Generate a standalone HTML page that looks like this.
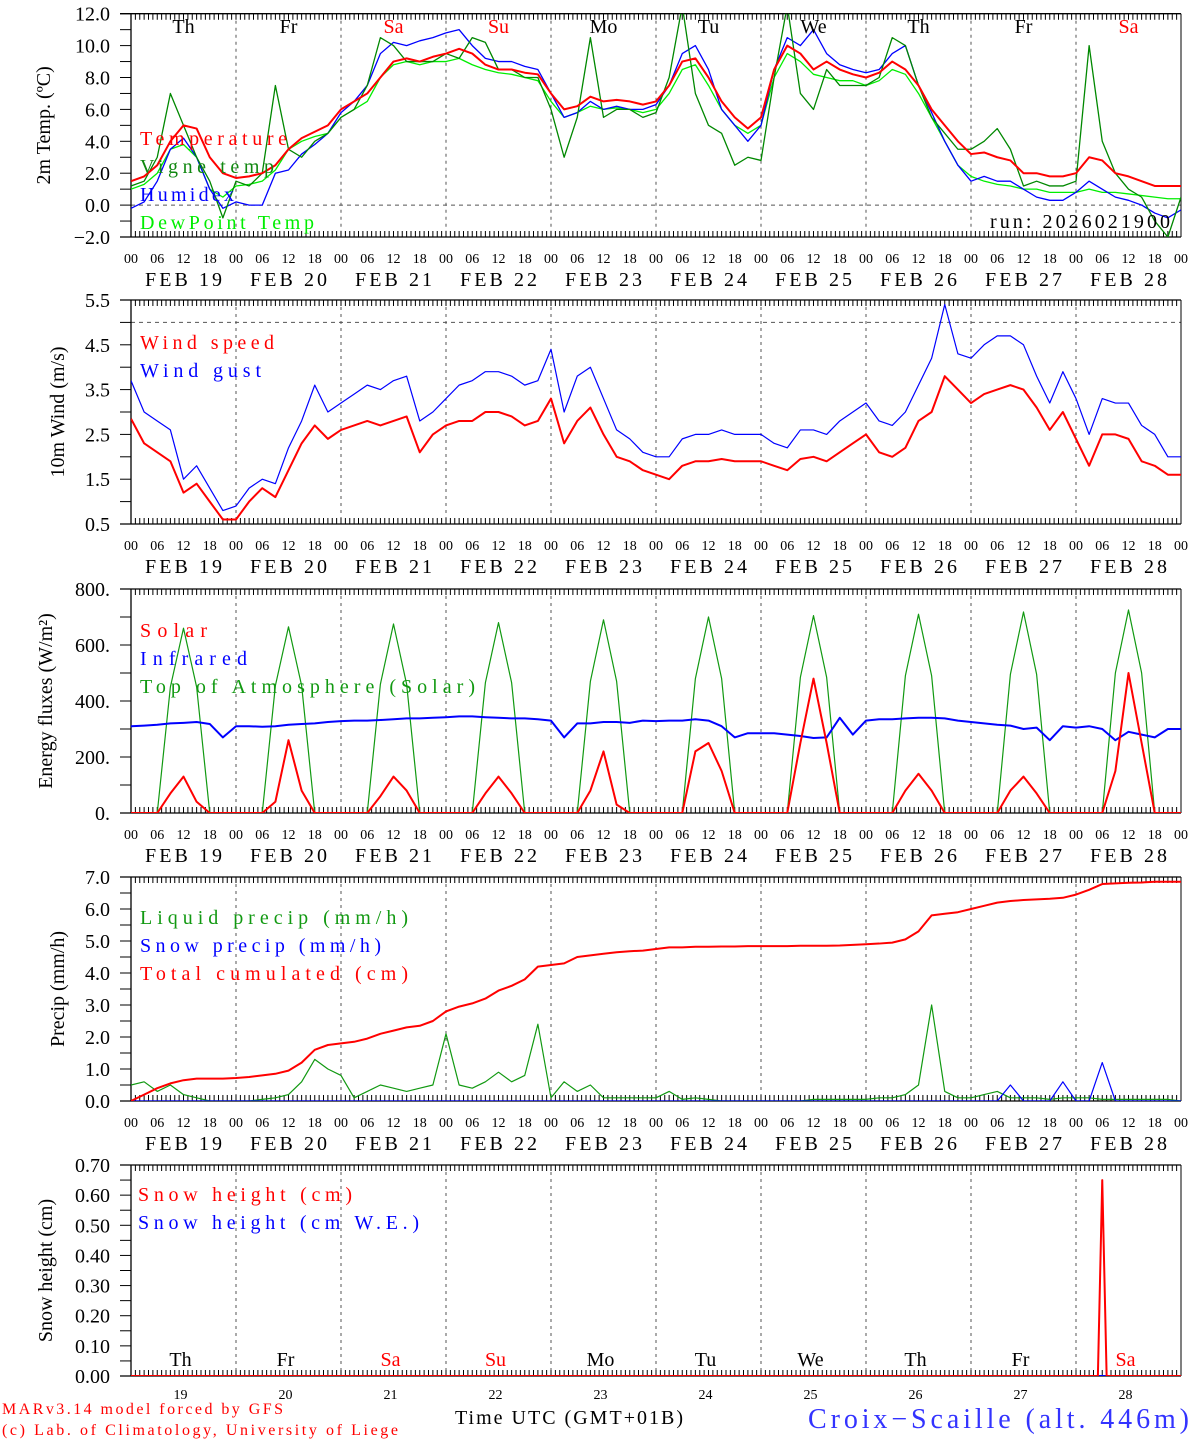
<!DOCTYPE html>
<html><head><meta charset="utf-8"><style>
html,body{margin:0;padding:0;background:#fff;}
svg{display:block;font-family:"Liberation Serif",serif;}
</style></head><body>
<svg id="chart" width="1194" height="1440" viewBox="0 0 1194 1440" xmlns="http://www.w3.org/2000/svg"></svg>
<script>
// ---------- data (3-hourly, 81 points from FEB 19 00 to MAR 01 00) ----------
const weekdays = ["Th","Fr","Sa","Su","Mo","Tu","We","Th","Fr","Sa"];
const weekendFlags = [0,0,1,1,0,0,0,0,0,1];
const dayNumbers = ["19","20","21","22","23","24","25","26","27","28"];
const hourLabels = ["00","06","12","18"];

const temperature = [1.5,1.8,2.5,4.0,5.0,4.8,3.0,2.0, 1.7,1.8,2.0,2.5,3.5,4.2,4.6,5.0, 6.0,6.5,7.0,8.0,9.0,9.2,9.0,9.3, 9.5,9.8,9.5,8.8,8.5,8.5,8.3,8.2, 7.0,6.0,6.2,6.8,6.5,6.6,6.5,6.3, 6.5,7.5,9.0,9.2,8.0,6.5,5.5,4.8, 5.5,8.5,10.0,9.5,8.5,9.0,8.5,8.2, 8.0,8.3,9.0,8.5,7.5,6.0,5.0,4.0, 3.2,3.3,3.0,2.8,2.0,2.0,1.8,1.8, 2.0,3.0,2.8,2.0,1.8,1.5,1.2,1.2, 1.2];
const vigneTemp = [1.2,1.5,3.0,7.0,5.0,3.0,1.5,-0.8, 1.5,1.2,2.0,7.5,3.5,3.0,4.0,4.5, 5.5,6.0,7.5,10.5,10.0,9.0,9.0,9.0, 9.5,9.2,10.5,10.2,8.5,8.5,8.0,8.0, 6.0,3.0,5.5,10.5,5.5,6.0,6.0,5.5, 5.8,8.0,12.5,7.0,5.0,4.5,2.5,3.0, 2.8,8.0,12.5,7.0,6.0,8.5,7.5,7.5, 7.5,8.0,10.5,10.0,7.5,5.5,4.5,3.5, 3.5,4.0,4.8,3.5,1.2,1.5,1.2,1.2, 1.5,10.0,4.0,2.0,1.0,0.5,-1.0,-2.0, 0.5];
const humidex = [-0.2,0.2,1.5,3.5,4.2,3.0,1.0,-0.2, 0.2,0.0,0.0,2.0,2.2,3.2,3.8,4.5, 5.8,6.5,7.5,9.5,10.2,10.0,10.3,10.5, 10.8,11.0,10.0,9.2,9.0,9.0,8.7,8.5, 7.0,5.5,5.8,6.5,6.0,6.2,6.0,6.0, 6.3,7.5,9.5,10.0,8.5,6.0,5.0,4.0, 5.0,8.5,10.5,10.0,11.0,9.5,8.8,8.5, 8.3,8.5,9.5,10.0,7.5,5.8,4.0,2.5, 1.5,1.8,1.5,1.5,1.0,0.5,0.3,0.3, 0.8,1.5,1.0,0.5,0.3,0.0,-0.5,-0.8, -0.3];
const dewPoint = [1.0,1.3,2.0,3.5,3.8,3.0,1.0,0.5, 1.2,1.3,1.5,2.2,3.5,4.0,4.3,4.5, 5.5,6.0,6.5,8.0,8.8,9.0,8.8,9.0, 9.0,9.2,8.8,8.5,8.3,8.2,8.0,7.8, 6.5,5.5,5.8,6.2,6.0,6.1,6.0,5.8, 6.0,7.0,8.5,8.8,7.5,6.0,5.0,4.5, 5.0,8.0,9.5,9.0,8.2,8.0,7.8,7.8, 7.5,7.8,8.5,8.2,7.0,5.5,4.0,2.5, 1.8,1.5,1.3,1.2,1.0,1.0,0.8,0.8, 0.8,1.0,0.8,0.8,0.7,0.6,0.5,0.4, 0.4];

const windSpeed = [2.85,2.3,2.1,1.9,1.2,1.4,1.0,0.6, 0.6,1.0,1.3,1.1,1.7,2.3,2.7,2.4, 2.6,2.7,2.8,2.7,2.8,2.9,2.1,2.5, 2.7,2.8,2.8,3.0,3.0,2.9,2.7,2.8, 3.3,2.3,2.8,3.1,2.5,2.0,1.9,1.7, 1.6,1.5,1.8,1.9,1.9,1.95,1.9,1.9, 1.9,1.8,1.7,1.95,2.0,1.9,2.1,2.3, 2.5,2.1,2.0,2.2,2.8,3.0,3.8,3.5, 3.2,3.4,3.5,3.6,3.5,3.1,2.6,3.0, 2.4,1.8,2.5,2.5,2.4,1.9,1.8,1.6, 1.6];
const windGust = [3.7,3.0,2.8,2.6,1.5,1.8,1.3,0.8, 0.9,1.3,1.5,1.4,2.2,2.8,3.6,3.0, 3.2,3.4,3.6,3.5,3.7,3.8,2.8,3.0, 3.3,3.6,3.7,3.9,3.9,3.8,3.6,3.7, 4.4,3.0,3.8,4.0,3.3,2.6,2.4,2.1, 2.0,2.0,2.4,2.5,2.5,2.6,2.5,2.5, 2.5,2.3,2.2,2.6,2.6,2.5,2.8,3.0, 3.2,2.8,2.7,3.0,3.6,4.2,5.4,4.3, 4.2,4.5,4.7,4.7,4.5,3.8,3.2,3.9, 3.3,2.5,3.3,3.2,3.2,2.7,2.5,2.0, 2.0];

const solar = [0,0,0,70,130,40,0,0, 0,0,0,40,260,80,0,0, 0,0,0,60,130,80,0,0, 0,0,0,70,130,70,0,0, 0,0,0,80,220,30,0,0, 0,0,0,220,250,150,0,0, 0,0,0,250,480,250,0,0, 0,0,0,80,140,80,0,0, 0,0,0,80,130,70,0,0, 0,0,0,150,500,250,0,0, 0];
const infrared = [310,312,315,320,322,325,318,270, 310,310,308,310,315,318,320,325, 328,330,330,332,335,338,338,340, 342,345,345,342,340,338,338,335, 330,270,320,320,325,325,322,330, 328,330,330,335,330,310,270,285, 285,285,280,275,268,270,340,280, 330,335,335,338,340,340,338,330, 325,320,315,312,300,305,260,310, 305,310,300,260,290,280,270,300, 300];
const topOfAtmosphere = [0,0,0,450,660,450,0,0, 0,0,0,455,665,455,0,0, 0,0,0,460,675,460,0,0, 0,0,0,465,680,465,0,0, 0,0,0,470,690,470,0,0, 0,0,0,480,700,480,0,0, 0,0,0,485,705,485,0,0, 0,0,0,490,710,490,0,0, 0,0,0,495,718,495,0,0, 0,0,0,500,725,500,0,0, 0];

const liquidPrecip = [0.5,0.6,0.3,0.5,0.2,0.1,0.0,0.0, 0,0,0.05,0.1,0.2,0.6,1.3,1.0, 0.8,0.1,0.3,0.5,0.4,0.3,0.4,0.5, 2.1,0.5,0.4,0.6,0.9,0.6,0.8,2.4, 0.1,0.6,0.3,0.5,0.1,0.1,0.1,0.1, 0.1,0.3,0.05,0.1,0.05,0,0,0, 0,0,0,0,0.05,0.05,0.05,0.05, 0.05,0.1,0.1,0.2,0.5,3.0,0.3,0.1, 0.1,0.2,0.3,0.1,0.1,0.1,0.05,0.1, 0.1,0.1,0.05,0.05,0.05,0.05,0.05,0.05, 0];
const snowPrecip = [0,0,0,0,0,0,0,0, 0,0,0,0,0,0,0,0, 0,0,0,0,0,0,0,0, 0,0,0,0,0,0,0,0, 0,0,0,0,0,0,0,0, 0,0,0,0,0,0,0,0, 0,0,0,0,0,0,0,0, 0,0,0,0,0,0,0,0, 0,0,0,0.5,0,0,0,0.6, 0,0,1.2,0,0,0,0,0, 0];
const totalCumulated = [0,0.2,0.4,0.55,0.65,0.7,0.7,0.7, 0.72,0.75,0.8,0.85,0.95,1.2,1.6,1.75, 1.8,1.85,1.95,2.1,2.2,2.3,2.35,2.5, 2.8,2.95,3.05,3.2,3.45,3.6,3.8,4.2, 4.25,4.3,4.5,4.55,4.6,4.65,4.68,4.7, 4.75,4.8,4.8,4.82,4.82,4.83,4.83,4.84, 4.84,4.84,4.84,4.85,4.85,4.85,4.86,4.88, 4.9,4.92,4.95,5.05,5.3,5.8,5.85,5.9, 6.0,6.1,6.2,6.25,6.28,6.3,6.32,6.35, 6.45,6.6,6.78,6.8,6.82,6.83,6.85,6.85, 6.85];

// snow height sampled hourly on FEB 28 around the spike (index by hour)
const snowHeightHours = [0, 221, 222, 223, 224, 240];
const snowHeight = [0, 0, 0.65, 0, 0, 0];
const snowHeightWE = [0, 0, 0, 0, 0, 0];

// ---------- rendering ----------
const NS = "http://www.w3.org/2000/svg";
const svg = document.getElementById("chart");
const X0 = 131, X1 = 1181, NPTS = 81;
function xScale(i){ return X0 + i*(X1-X0)/(NPTS-1); }
function xHour(h){ return X0 + h*(X1-X0)/240; }
function mk(tag, attrs, parent){
  const e = document.createElementNS(NS, tag);
  for (const k in attrs) e.setAttribute(k, attrs[k]);
  (parent||svg).appendChild(e);
  return e;
}
function txt(s, x, y, size, fill, anchor, parent){
  const t = mk("text", {x:x, y:y, "font-size":size, fill:fill||"#000", "text-anchor":anchor||"start"}, parent);
  t.textContent = s;
  return t;
}

const panels = [
  {name:"temperature", top:13.7, bottom:237, min:-2, max:12, major:2, minor:1, fmt:v=>v.toFixed(1).replace("-","\u2212"), zeroLine:0,
   title:"2m Temp. (\u00baC)", titleX:50, hourLabels:true,
   series:[[dewPoint,"#00ee00",1.3,"dewpoint-line"],[humidex,"#0000ff",1.3,"humidex-line"],[vigneTemp,"#008800",1.3,"vigne-temp-line"],[temperature,"#ff0000",2,"temperature-line"]],
   legend:[["Temperature","#ff0000"],["Vigne temp","#118811"],["Humidex","#0000ff"],["DewPoint Temp","#00ee00"]], legY:145},
  {name:"wind", top:300, bottom:524, min:0.5, max:5.5, major:1, minor:0.5, fmt:v=>v.toFixed(1), zeroLine:5.0,
   title:"10m Wind (m/s)", titleX:64, hourLabels:true,
   series:[[windGust,"#0000ff",1.2,"wind-gust-line"],[windSpeed,"#ff0000",2,"wind-speed-line"]],
   legend:[["Wind speed","#ff0000"],["Wind gust","#0000ff"]], legY:349},
  {name:"energy", top:589, bottom:813, min:0, max:800, major:200, minor:100, fmt:v=>v.toFixed(0)+".", zeroLine:null,
   title:"Energy fluxes (W/m\u00b2)", titleX:52, hourLabels:true,
   series:[[topOfAtmosphere,"#119911",1.2,"toa-line"],[infrared,"#0000ff",2,"infrared-line"],[solar,"#ff0000",2,"solar-line"]],
   legend:[["Solar","#ff0000"],["Infrared","#0000ff"],["Top of Atmosphere (Solar)","#119911"]], legY:637},
  {name:"precip", top:877, bottom:1101, min:0, max:7, major:1, minor:0.5, fmt:v=>v.toFixed(1), zeroLine:null,
   title:"Precip (mm/h)", titleX:64, hourLabels:true,
   series:[[liquidPrecip,"#119911",1.2,"liquid-precip-line"],[snowPrecip,"#0000ff",1.2,"snow-precip-line"],[totalCumulated,"#ff0000",2,"total-cumulated-line"]],
   legend:[["Liquid precip (mm/h)","#119911"],["Snow precip (mm/h)","#0000ff"],["Total cumulated (cm)","#ff0000"]], legY:924},
  {name:"snow", top:1165, bottom:1376, min:0, max:0.70, major:0.1, minor:0.05, fmt:v=>v.toFixed(2), zeroLine:null,
   title:"Snow height (cm)", titleX:52, hourLabels:false, hours:snowHeightHours,
   series:[[snowHeightWE,"#0000ff",2,"snow-height-we-line"],[snowHeight,"#ff0000",2,"snow-height-line"]],
   legend:[["Snow height (cm)","#ff0000"],["Snow height (cm W.E.)","#0000ff"]], legY:1201, legX:138}
];

panels.forEach((p, pi) => {
  const g = mk("g", {});
  
  
  const yScale = v => p.bottom - (v - p.min) * (p.bottom - p.top) / (p.max - p.min);
  const clipId = "clip" + pi;
  const cp = mk("clipPath", {id:clipId}, g);
  mk("rect", {x:X0, y:p.top, width:X1-X0, height:p.bottom-p.top}, cp);

  for (let d = 1; d < 10; d++) {
    const l = mk("line", {x1:xHour(d*24), x2:xHour(d*24), y1:p.top, y2:p.bottom, stroke:"#555", "stroke-width":1, "stroke-dasharray":"3,4"}, g);
    
    
  }
  if (p.zeroLine !== null) {
    const l = mk("line", {x1:X0, x2:X1, y1:yScale(p.zeroLine), y2:yScale(p.zeroLine), stroke:"#555", "stroke-width":1, "stroke-dasharray":"4,4"}, g);
    
    
  }
  mk("line", {x1:X0, x2:X0, y1:p.top, y2:p.bottom, stroke:"#000", "stroke-width":1.3}, g);
  mk("line", {x1:X1, x2:X1, y1:p.top, y2:p.bottom, stroke:"#000", "stroke-width":1}, g);
  mk("line", {x1:X0-11, x2:X1, y1:p.top, y2:p.top, stroke:"#000", "stroke-width":1.3}, g);
  mk("line", {x1:X0-11, x2:X1, y1:p.bottom, y2:p.bottom, stroke:"#000", "stroke-width":1.3}, g);
  let tp = "";
  for (let h = 1; h < 240; h++) {
    const x = xHour(h).toFixed(2);
    tp += `M${x} ${p.top}v6M${x} ${p.bottom}v-6`;
  }
  mk("path", {d:tp, stroke:"#000", "stroke-width":1}, g);
  const nMinor = Math.round((p.max - p.min)/p.minor);
  for (let k = 0; k <= nMinor; k++) {
    const v = p.min + k*p.minor, y = yScale(v);
    mk("line", {x1:X0-11, x2:X0, y1:y, y2:y, stroke:"#000", "stroke-width":1}, g);
  }
  const nMajor = Math.round((p.max - p.min)/p.major);
  for (let k = 0; k <= nMajor; k++) {
    const v = p.min + k*p.major;
    const t = txt(p.fmt(v), 110, yScale(v)+7, 20, "#000", "end", g);
    
    
  }
  const ty = (p.top + p.bottom)/2;
  const tt = txt(p.title, p.titleX, ty, 20, "#000", "middle", g);
  tt.setAttribute("transform", `rotate(-90 ${p.titleX} ${ty})`);
  
  

  const sg = mk("g", {"clip-path":`url(#${clipId})`}, g);
  p.series.forEach(s => {
    const pts = s[0].map((v, i) => (p.hours ? xHour(p.hours[i]) : xScale(i)).toFixed(2) + "," + yScale(v).toFixed(2)).join(" ");
    const pl = mk("polyline", {points:pts, fill:"none", stroke:s[1], "stroke-width":s[2], "stroke-linejoin":"round"}, sg);
    
    
  });

  p.legend.forEach((e, k) => {
    const t = txt(e[0], p.legX || 140, p.legY + k*28, 20, e[1], "start", g);
    t.setAttribute("textLength", (e[0].length*13.4).toFixed(0));
    
    
  });

  if (p.hourLabels) {
    for (let d = 0; d <= 10; d++) {
      hourLabels.forEach((hl, k) => {
        if (d === 10 && k > 0) return;
        const t = txt(hl, xHour(d*24 + k*6), p.bottom + 26, 14, "#000", "middle", g);
        
        
      });
    }
    dayNumbers.forEach((dn, d) => {
      const t = txt("FEB " + dn, xHour(d*24 + 12), p.bottom + 49, 20, "#000", "middle", g);
      t.setAttribute("textLength", "77");
      
      
    });
  }
});

weekdays.forEach((w, d) => {
  const c = weekendFlags[d] ? "#ff0000" : "#000";
  const t1 = txt(w, xHour(d*24+12), 33, 20, c, "middle");
  
  
  const t2 = txt(w, xHour(d*24+12) - 3, 1366, 20, c, "middle");
  
  
  const t3 = txt(dayNumbers[d], xHour(d*24+12) - 3, 1399, 14, "#000", "middle");
  
  
});

const run = txt("run: 2026021900", 1170, 228, 20, "#000", "end");
run.setAttribute("textLength", "180");



const xt = txt("Time UTC (GMT+01B)", 455, 1424, 20, "#000", "start");
xt.setAttribute("textLength", "228");



const f1 = txt("MARv3.14 model forced by GFS", 2, 1414, 16, "#ff0000", "start");
f1.setAttribute("textLength", "281");


const f2 = txt("(c) Lab. of Climatology, University of Liege", 2, 1435, 16, "#ff0000", "start");
f2.setAttribute("textLength", "396");



const st = txt("Croix\u2212Scaille (alt. 446m)", 1189, 1428, 28, "#3333ff", "end");
st.setAttribute("textLength", "381");


</script>
</body></html>
